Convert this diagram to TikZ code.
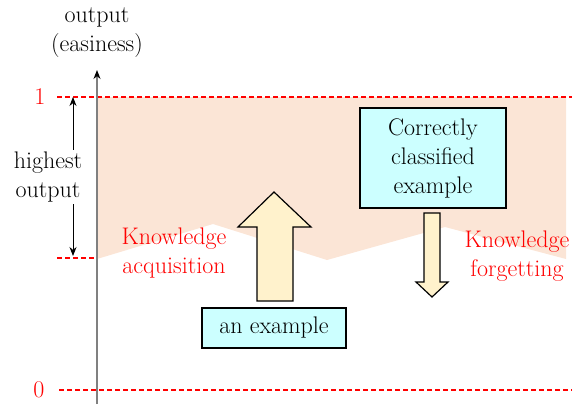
\documentclass[tikz,border=0pt]{standalone}
\usetikzlibrary{arrows.meta}
\definecolor{shadepeach}{HTML}{FBE5D6}
\definecolor{boxcyan}{HTML}{CCFFFF}
\definecolor{arrowfill}{HTML}{FFF2CC}
\definecolor{axisgray}{HTML}{808080}
\begin{document}
\begin{tikzpicture}[x=1pt,y=-1pt,
  txt/.style={font=\rmfamily\fontsize{24}{29}\selectfont, align=center, inner sep=0pt},
  redlbl/.style={txt, text=red},
  box/.style={txt, draw=black, fill=boxcyan, line width=1.2pt},
  refline/.style={red, dash pattern=on 5pt off 3pt, line width=1.2pt},
  blockarrow/.style={draw=black, fill=arrowfill, line width=1.2pt, line join=miter},
  axisline/.style={axisgray, line width=1.2pt, -{Stealth[length=9pt,width=7pt,black]}},
  measure/.style={black, line width=0.9pt, -{Stealth[length=9pt,width=7pt]}}
]
\useasboundingbox (0,0) rectangle (572,404);
% shaded region
\fill[shadepeach] (97,97) -- (566,97) -- (566,259) -- (445,227) -- (327,260) -- (213,224) -- (97,259) -- cycle;
% reference lines
\node[redlbl] (one) at (40,97) {1};
\node[redlbl] (zero) at (39,390) {0};
\coordinate (oneS) at (57,97);
\coordinate (oneE) at (572,97);
\coordinate (zeroS) at (59,390);
\coordinate (zeroE) at (572,390);
\coordinate (midS) at (57,258);
\coordinate (midE) at (97,258);
\draw[refline] (oneS) -- (oneE);
\draw[refline] (zeroS) -- (zeroE);
\draw[refline] (midS) -- (midE);
% axis
\coordinate (axB) at (97,404);
\coordinate (axT) at (97,70);
\draw[axisline] (axB) -- (axT);
\node[txt] (ylabel) at (97,33) {output\\(easiness)};
% highest output
\node[txt] (hout) at (48,177) {highest\\output};
\coordinate (hTop) at (73,97);
\coordinate (hBot) at (73,256);
\draw[measure] (hout.north -| hTop) ++(0,-2) -- (hTop);
\draw[measure] (hout.south -| hBot) ++(0,2) -- (hBot);
% red labels
\node[redlbl] (acq) at (174,253) {Knowledge\\acquisition};
\node[redlbl] (forg) at (517,256) {Knowledge\\forgetting};
% boxes
\node[box, minimum width=144pt, minimum height=40pt] (ex) at (274,328) {an example};
\node[box, minimum width=146pt, minimum height=100pt] (cc) at (433,158) {Correctly\\classified\\example};
% block arrows
\draw[blockarrow] (274,192) -- (311,227) -- (293,227) -- (293,301) -- (257,301) -- (257,227) -- (238,227) -- cycle;
\draw[blockarrow] (432,297) -- (448,282) -- (440,282) -- (440,213) -- (424,213) -- (424,282) -- (416,282) -- cycle;
\end{tikzpicture}
\end{document}
